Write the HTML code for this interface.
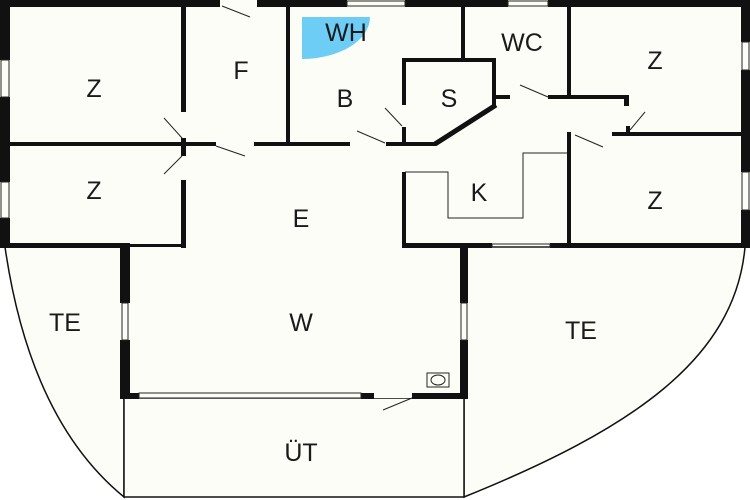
<!DOCTYPE html>
<html><head><meta charset="utf-8"><style>
html,body{margin:0;padding:0;background:#fff;width:750px;height:500px;overflow:hidden}
svg text{font-family:"Liberation Sans",sans-serif;font-size:25px;fill:#1a1a1a;text-anchor:middle}
</style></head><body>
<svg width="750" height="500" viewBox="0 0 750 500" xmlns="http://www.w3.org/2000/svg">
<g fill="#fdfdf7" stroke="none">
<rect x="0" y="0" width="750" height="248"/>
<path d="M5 247 Q30 420 124 497 L124 247 Z" stroke="#111" stroke-width="1.5"/>
<path d="M745 247 C735 360 630 430 464 497 L464 247 Z" stroke="#111" stroke-width="1.5"/>
<rect x="124" y="398" width="340" height="99" stroke="#111" stroke-width="1.5"/>
<rect x="120" y="245" width="348" height="153"/>
</g>
<path d="M302 17 L370 17 A68 42 0 0 1 302 59 Z" fill="#6dcdf5"/>
<g fill="#111">
<rect x="0" y="0" width="220" height="7"/>
<rect x="257" y="0" width="90" height="7"/>
<rect x="405" y="0" width="103" height="7"/>
<rect x="548" y="0" width="202" height="7"/>
<rect x="0" y="0" width="10" height="60"/>
<rect x="0" y="97" width="10" height="85"/>
<rect x="0" y="218" width="10" height="30"/>
<rect x="741" y="0" width="9" height="42"/>
<rect x="741" y="70" width="9" height="102"/>
<rect x="741" y="210" width="9" height="38"/>
<rect x="0" y="243" width="130" height="5"/>
<rect x="130" y="244" width="56" height="3"/>
<rect x="402" y="243" width="90" height="5"/>
<rect x="550" y="243" width="195" height="5"/>
<rect x="181" y="0" width="5" height="112"/>
<rect x="181" y="138" width="5" height="18"/>
<rect x="181" y="180" width="5" height="68"/>
<rect x="10" y="142" width="206" height="4"/>
<rect x="254" y="142" width="96" height="4"/>
<rect x="386" y="142" width="50" height="4"/>
<rect x="286" y="0" width="4" height="146"/>
<rect x="461" y="0" width="4" height="60"/>
<rect x="402" y="58" width="94" height="4"/>
<rect x="402" y="58" width="4" height="47"/>
<rect x="402" y="127" width="4" height="19"/>
<rect x="492" y="58" width="4" height="48"/>
<rect x="494" y="95" width="16" height="4"/>
<rect x="548" y="95" width="80" height="4"/>
<rect x="624" y="95" width="5" height="11"/>
<rect x="567" y="0" width="4" height="99"/>
<rect x="612" y="132" width="130" height="4"/>
<rect x="567" y="132" width="4" height="116"/>
<rect x="626" y="126" width="4" height="10"/>
<rect x="402" y="172" width="4" height="76"/>
<rect x="120" y="245" width="10" height="58"/>
<rect x="120" y="340" width="10" height="58"/>
<rect x="460" y="245" width="8" height="58"/>
<rect x="460" y="340" width="8" height="58"/>
<rect x="120" y="393" width="19" height="6"/>
<rect x="361" y="393" width="13" height="6"/>
<rect x="412" y="393" width="56" height="6"/>
</g>
<path d="M496 105 L435 144" stroke="#111" stroke-width="5"/>
<g fill="none" stroke="#222" stroke-width="1">
<rect x="1" y="60" width="8" height="37"/><rect x="1" y="182" width="8" height="36"/>
<rect x="742" y="42" width="7" height="28"/><rect x="742" y="172" width="7" height="38"/>
<rect x="347" y="1" width="58" height="5"/><rect x="508" y="1" width="40" height="5"/>
<rect x="492" y="244" width="58" height="3"/>
<rect x="122" y="303" width="6" height="37"/><rect x="461" y="303" width="6" height="37"/>
<rect x="139" y="393" width="222" height="5"/>
<path d="M567 153 L523 153 L523 218 L448 218 L448 172 L405 172"/>
<rect x="427" y="373" width="22" height="14"/><ellipse cx="438" cy="380" rx="7" ry="5"/>
<path d="M222 6 L250 17"/><path d="M164 118 L182 138"/><path d="M164 174 L182 156"/>
<path d="M216 146 L245 156"/><path d="M357 131 L385 143"/><path d="M385 108 L402 126"/>
<path d="M520 85 L548 97"/><path d="M645 112 L630 130"/><path d="M575 135 L603 147"/>
<path d="M412 398 L383 410"/>
</g>
<text x="94" y="97">Z</text>
<text x="94" y="199">Z</text>
<text x="241" y="79">F</text>
<text x="345" y="107">B</text>
<text x="346" y="41">WH</text>
<text x="449" y="107">S</text>
<text x="522" y="51">WC</text>
<text x="655" y="69">Z</text>
<text x="479" y="201">K</text>
<text x="655" y="209">Z</text>
<text x="301" y="227">E</text>
<text x="65" y="331">TE</text>
<text x="301" y="331">W</text>
<text x="581" y="339">TE</text>
<text x="301" y="461">ÜT</text>
</svg>
</body></html>
